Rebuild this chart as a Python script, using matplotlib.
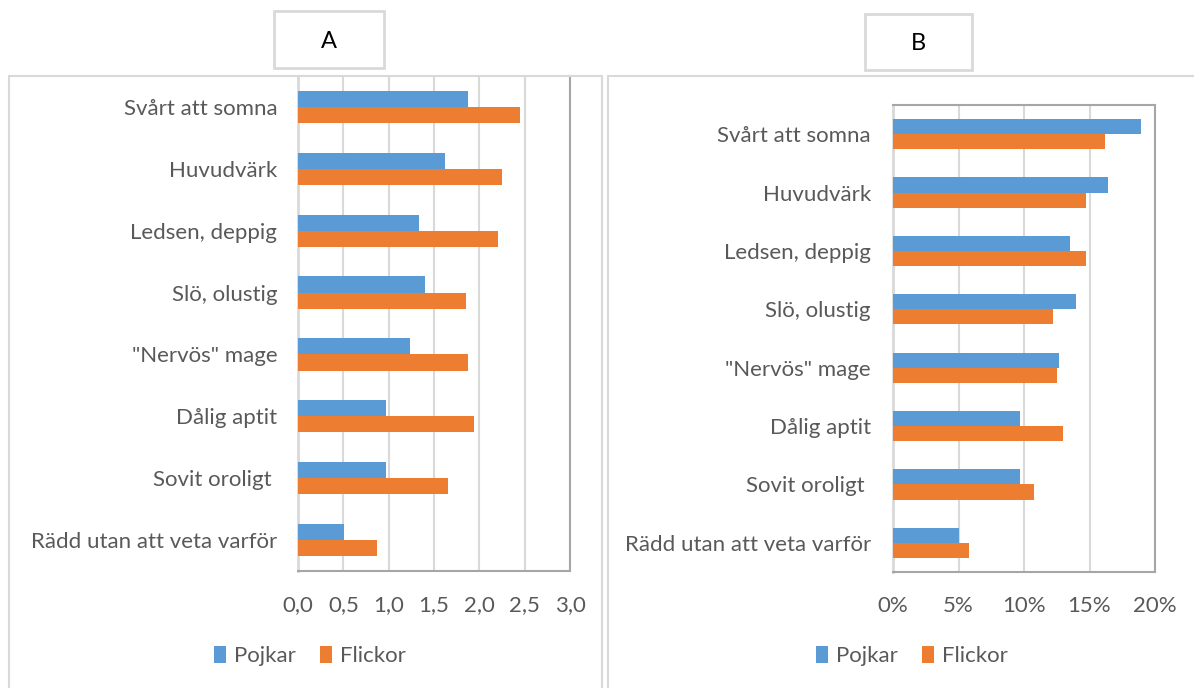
import numpy as np
import matplotlib
matplotlib.use('Agg')
import matplotlib.pyplot as plt
from matplotlib.patches import Rectangle

plt.rcParams['font.family'] = ['Lato', 'DejaVu Sans']

# data
categories = ['Svårt att somna', 'Huvudvärk', 'Ledsen, deppig', 'Slö, olustig',
              '"Nervös" mage', 'Dålig aptit', 'Sovit oroligt ', 'Rädd utan att veta varför']
pojkar_a = [1.88, 1.62, 1.34, 1.40, 1.23, 0.97, 0.97, 0.51]
flickor_a = [2.45, 2.25, 2.21, 1.85, 1.88, 1.94, 1.65, 0.87]
pojkar_b = [18.9, 16.4, 13.5, 14.0, 12.65, 9.7, 9.7, 5.05]
flickor_b = [16.2, 14.75, 14.75, 12.2, 12.55, 12.95, 10.8, 5.8]
ticks_a = [0, 0.5, 1.0, 1.5, 2.0, 2.5, 3.0]
ticks_b = [0, 5, 10, 15, 20]

W, H = 1194, 688
blue = '#5B9BD5'
orange = '#ED7D31'
txt = '#595959'
grid_c = '#D9D9D9'
axis_c = '#A6A6A6'
fs = 16

fig = plt.figure(figsize=(W / 100, H / 100), dpi=100)

def px_rect(x0, y0, x1, y1):
    # pixel box (top-left origin) -> figure fraction rect
    return [x0 / W, 1 - y1 / H, (x1 - x0) / W, (y1 - y0) / H]

def frame(x0, y0, x1, y1, lw=1.5):
    fig.patches.append(Rectangle((x0 / W, 1 - y1 / H), (x1 - x0) / W, (y1 - y0) / H,
                                 transform=fig.transFigure, fill=False,
                                 edgecolor=grid_c, linewidth=lw))

# outer boxes and title boxes
frame(9, 76, 602, 700)
frame(608, 76, 1200, 700)
frame(274, 11, 384, 68, lw=2)
frame(865, 14, 972, 70, lw=2)
fig.text(329 / W, 1 - 41 / H, 'A', ha='center', va='center', fontsize=17, color='black')
fig.text(918 / W, 1 - 44 / H, 'B', ha='center', va='center', fontsize=17, color='black')

y = np.arange(len(categories))
bh = 0.26

def panel(rect, pv, fv, ticks, fmt, legend_x, full_border, ypad):
    ax = fig.add_axes(rect)
    ax.barh(y - bh / 2, pv, height=bh, color=blue, label='Pojkar', zorder=3)
    ax.barh(y + bh / 2, fv, height=bh, color=orange, label='Flickor', zorder=3)
    ax.set_ylim(len(categories) - 0.5, -0.5)
    ax.set_xlim(ticks[0], ticks[-1])
    ax.set_xticks(ticks)
    ax.set_xticklabels([fmt(t) for t in ticks])
    ax.set_yticks(y)
    ax.set_yticklabels(categories)
    ax.tick_params(axis='both', length=0, labelsize=fs, colors=txt)
    ax.tick_params(axis='x', pad=17)
    ax.tick_params(axis='y', pad=ypad)
    ax.grid(axis='x', color=grid_c, linewidth=1.5, zorder=0)
    ax.set_axisbelow(True)
    ax.spines['left'].set_color(grid_c)
    ax.spines['left'].set_linewidth(2)
    ax.spines['bottom'].set_color(axis_c)
    ax.spines['bottom'].set_linewidth(1.5)
    ax.spines['right'].set_color(axis_c)
    ax.spines['right'].set_linewidth(1.5)
    if full_border:
        ax.spines['top'].set_color(axis_c)
        ax.spines['top'].set_linewidth(1.5)
    else:
        ax.spines['top'].set_visible(False)
    ax.legend(loc='center', bbox_to_anchor=(legend_x / W, 1 - 656 / H),
              bbox_transform=fig.transFigure, ncol=2, frameon=False,
              fontsize=fs, labelcolor=txt, handlelength=0.55, handleheight=0.8,
              handletextpad=0.35, columnspacing=1.1)
    return ax

panel(px_rect(298, 76, 570, 571), pojkar_a, flickor_a, ticks_a,
      lambda t: f'{t:.1f}'.replace('.', ','), 310, False, 15)
panel(px_rect(893, 105, 1155, 572), pojkar_b, flickor_b, ticks_b,
      lambda t: f'{t:.0f}%', 912, True, 16)

fig.savefig('out.png', dpi=100)
